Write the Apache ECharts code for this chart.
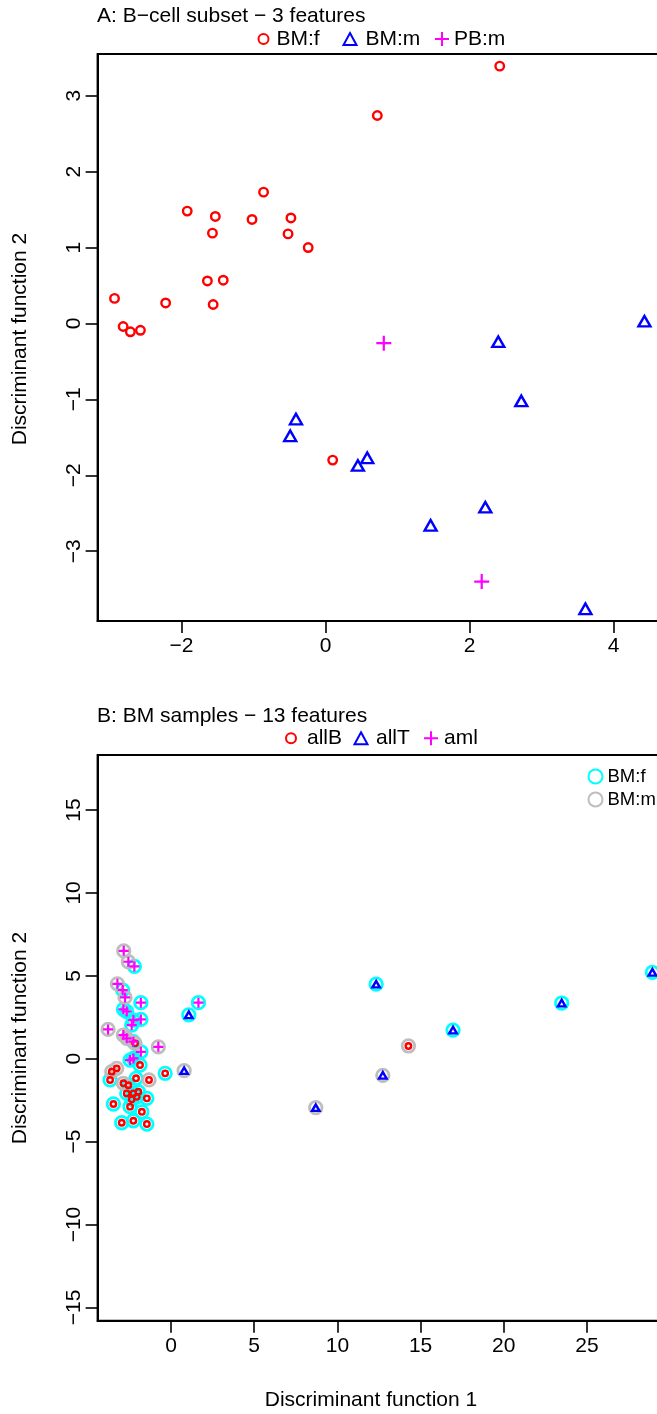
<!DOCTYPE html>
<html>
<head>
<meta charset="utf-8">
<script src="https://cdn.jsdelivr.net/npm/echarts@6/dist/echarts.min.js"></script>
<style>
html, body { margin: 0; padding: 0; background: #fff; }
#chartA { position: absolute; left: 0; top: 0; width: 657px; height: 690px; }
#chartB { position: absolute; left: 0; top: 690px; width: 657px; height: 724px; }
</style>
</head>
<body>
<div id="chartA"></div>
<div id="chartB"></div>
<script>
// ---- panel A : B-cell subset, 3 features ----
var aBMf = [[2.42, 3.39], [0.72, 2.74], [-0.86, 1.73], [-1.92, 1.48], [-1.53, 1.41],
	[-1.02, 1.37], [-0.48, 1.39], [-1.57, 1.19], [-0.52, 1.18], [-0.24, 1.00],
	[-1.64, 0.56], [-1.42, 0.57], [-2.93, 0.33], [-2.22, 0.27], [-1.56, 0.25],
	[-2.81, -0.04], [-2.71, -0.11], [-2.57, -0.09], [0.10, -1.80]];
var aBMm = [[4.43, 0.03], [2.40, -0.24], [2.72, -1.02], [-0.41, -1.26], [-0.49, -1.48],
	[0.58, -1.77], [0.45, -1.87], [2.22, -2.42], [1.46, -2.66], [3.61, -3.76]];
var aPBm = [[0.81, -0.26], [2.17, -3.40]];
var aXTicks = [-2, 0, 2, 4];
var aYTicks = [-3, -2, -1, 0, 1, 2, 3];

// ---- panel B : BM samples, 13 features ([x, y, sex]) ----
var bAllB = [[-2.16, 0.93, 'm'], [-1.86, -0.38, 'f'], [-3.26, -0.58, 'm'], [-3.56, -0.78, 'm'],
	[-3.66, -1.28, 'f'], [-2.86, -1.48, 'm'], [-2.10, -1.18, 'f'], [-1.32, -1.28, 'm'],
	[-0.35, -0.88, 'f'], [-2.56, -1.60, 'f'], [-2.66, -2.09, 'f'], [-2.26, -2.09, 'f'],
	[-1.96, -1.99, 'f'], [-2.06, -2.30, 'f'], [-1.45, -2.39, 'f'], [-2.36, -2.45, 'f'],
	[-3.46, -2.73, 'f'], [-2.46, -2.89, 'f'], [-1.75, -3.20, 'f'], [-2.96, -3.86, 'f'],
	[-2.26, -3.74, 'f'], [-1.45, -3.94, 'f'], [14.27, 0.77, 'm']];
var bAllT = [[1.07, 2.65, 'f'], [0.79, -0.72, 'm'], [12.33, 4.50, 'f'], [23.48, 3.36, 'f'],
	[28.93, 5.21, 'f'], [16.95, 1.73, 'f'], [12.73, -1.00, 'm'], [8.70, -2.95, 'm']];
var bAml = [[-2.84, 6.51, 'm'], [-2.56, 5.85, 'm'], [-2.20, 5.57, 'f'], [-3.22, 4.52, 'm'],
	[-2.90, 4.14, 'f'], [-2.76, 3.70, 'm'], [-1.81, 3.38, 'f'], [1.65, 3.38, 'f'],
	[-2.86, 2.98, 'f'], [-2.66, 2.85, 'f'], [-2.26, 2.33, 'f'], [-1.81, 2.37, 'f'],
	[-2.36, 2.03, 'f'], [-3.78, 1.77, 'm'], [-2.86, 1.43, 'm'], [-2.66, 1.23, 'm'],
	[-2.26, 1.03, 'f'], [-0.76, 0.72, 'm'], [-1.81, 0.42, 'f'], [-2.26, 0.02, 'f'],
	[-2.46, -0.08, 'f']];
var bXTicks = [0, 5, 10, 15, 20, 25];
var bYTicks = [-15, -10, -5, 0, 5, 10, 15];

var FONT = 'Liberation Sans, Arial, Helvetica, sans-serif';
var PLUS = 'path://M5,0 L5,10 M0,5 L10,5';
var NONE = 'rgba(0,0,0,0)';

function drawchart(divId, option) {
	echarts.dispose(document.getElementById(divId));
	var myChart = echarts.init(document.getElementById(divId));
	myChart.setOption(option);
	return myChart;
}

function minusFmt(v) {
	return String(v).replace('-', '\u2212');
}

// R style axis (ticks outside, labels parallel to the axis)
function rAxis(min, max, ticks, isY) {
	return {
		type : 'value',
		min : min,
		max : max,
		splitLine : { show : false },
		axisLine : { show : true, onZero : false, lineStyle : { color : '#000', width : 2 } },
		axisTick : { show : true, length : 12, customValues : ticks,
			lineStyle : { color : '#000', width : 1.6 } },
		axisLabel : { show : true, customValues : ticks, formatter : minusFmt,
			rotate : isY ? 90 : 0, margin : isY ? 13 : 15, color : '#000', fontSize : 21, fontFamily : FONT }
	};
}

function pts(color, symbol, size, bw, data, name) {
	return {
		name : name,
		type : 'scatter',
		symbol : symbol,
		symbolSize : size,
		data : data,
		itemStyle : { color : NONE, borderColor : color, borderWidth : bw, opacity : 1 },
		emphasis : { disabled : true },
		clip : false
	};
}

function legendItem(name, left, top, w, h, pad, fs) {
	return {
		data : [name], left : left, top : top, padding : 0,
		itemWidth : w, itemHeight : h, selectedMode : false,
		textStyle : { fontSize : fs || 21, fontFamily : FONT, color : '#000', padding : [0, 0, 0, pad] }
	};
}

function textEl(txt, x, y, rot) {
	return {
		type : 'text', x : x, y : y, rotation : rot || 0,
		style : { text : txt, fontSize : 21, fontFamily : FONT, fill : '#000',
			align : 'center', verticalAlign : 'middle' }
	};
}

// ---- panel A ----
var optionA = {
	animation : false,
	title : { text : 'A: B\u2212cell subset \u2212 3 features', left : 97, top : 6, padding : 0,
		textStyle : { fontSize : 21, fontWeight : 'normal', fontFamily : FONT, color : '#000' } },
	legend : [
		legendItem('BM:f', 257.5, 28.5, 10, 10, 3),
		legendItem('BM:m', 342.5, 28.5, 13, 12, 4),
		legendItem('PB:m', 434, 28.5, 14, 14, 0)
	],
	grid : { left : 97.6, top : 54, width : 620, height : 567, show : true,
		borderColor : '#000', borderWidth : 2, outerBoundsMode : 'none', containLabel : false },
	xAxis : rAxis(-3.165, -3.165 + 620 / 72, aXTicks, false),
	yAxis : rAxis(-3.92, 3.55, aYTicks, true),
	graphic : [ textEl('Discriminant function 2', 20, 339, Math.PI / 2) ],
	series : [
		pts('#FF0000', 'circle', 8.5, 2.4, aBMf, 'BM:f'),
		pts('#0000FF', 'triangle', [12, 10.5], 2.4, aBMm, 'BM:m'),
		pts('#FF00FF', PLUS, 15, 2.2, aPBm, 'PB:m')
	]
};
drawchart('chartA', optionA);

// ---- panel B ----
var bAll = bAllB.concat(bAllT, bAml);
var ringF = bAll.filter(function(p) { return p[2] == 'f'; });
var ringM = bAll.filter(function(p) { return p[2] == 'm'; });

var optionB = {
	animation : false,
	title : { text : 'B: BM samples \u2212 13 features', left : 97, top : 15.5, padding : 0,
		textStyle : { fontSize : 21, fontWeight : 'normal', fontFamily : FONT, color : '#000' } },
	legend : [
		legendItem('allB', 285, 37.8, 10, 10, 6),
		legendItem('allT', 353.5, 37.8, 13, 12, 3.5),
		legendItem('aml', 423, 37.8, 14, 14, 1),
		{ data : ['BM:f', 'BM:m'], orient : 'vertical', left : 587.5, top : 77, padding : 0,
			itemWidth : 14, itemHeight : 14, itemGap : 4, selectedMode : false,
			textStyle : { fontSize : 18.5, fontFamily : FONT, color : '#000' } }
	],
	grid : { left : 97.6, top : 65, width : 620, height : 565.7, show : true,
		borderColor : '#000', borderWidth : 2, outerBoundsMode : 'none', containLabel : false },
	xAxis : rAxis(-4.41, -4.41 + 620 / 16.64, bXTicks, false),
	yAxis : rAxis(-15.80, 18.32, bYTicks, true),
	graphic : [
		textEl('Discriminant function 2', 20, 348, Math.PI / 2),
		textEl('Discriminant function 1', 371, 710, 0)
	],
	series : [
		pts('#00FFFF', 'circle', 12.5, 2.8, ringF, 'BM:f'),
		pts('#BEBEBE', 'circle', 12.5, 2.8, ringM, 'BM:m'),
		pts('#FF0000', 'circle', 5.5, 2.4, bAllB, 'allB'),
		pts('#0000FF', 'triangle', [7.5, 6.5], 2.4, bAllT, 'allT'),
		pts('#FF00FF', PLUS, 10, 2.2, bAml, 'aml')
	]
};
drawchart('chartB', optionB);
</script>
</body>
</html>
